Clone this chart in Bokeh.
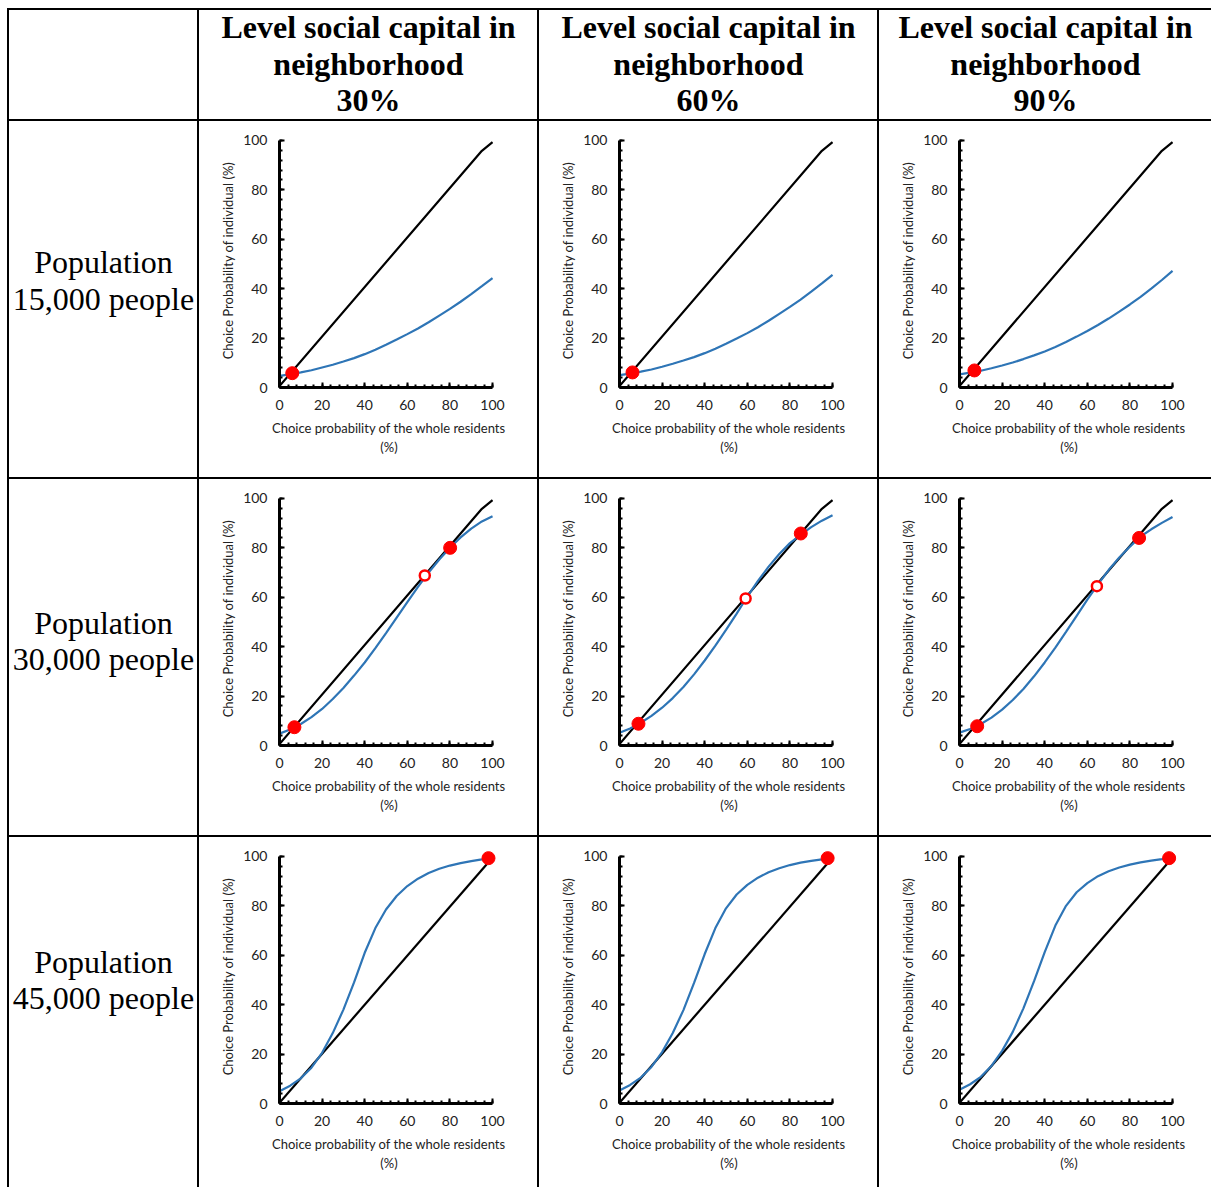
from bokeh.plotting import figure
from bokeh.models import Range1d, SingleIntervalTicker, Spacer
from bokeh.layouts import row, column
from bokeh.embed import file_html
from bokeh.resources import INLINE
from bokeh.core.properties import value

# ---------------- data ----------------
HEADER_LINES = ["Level social capital in", "neighborhood"]
SOCIAL_LEVELS = ["30%", "60%", "90%"]
ROW_WORD = "Population"
POPULATIONS = ["15,000 people", "30,000 people", "45,000 people"]
X_LABEL = "Choice probability of the whole residents\n(%)"
Y_LABEL = "Choice Probability of individual (%)"

# x positions at which the individual-probability curves were read
x_rows12 = [0, 5, 10, 15, 20, 25, 30, 35, 40, 45, 50, 55, 60, 65, 70, 75, 80, 85, 90, 95, 100]
x_row3 = [0, 5, 10, 15, 20, 25, 30, 35, 40, 45, 50, 55, 60, 65, 70, 75, 80, 85, 90, 95, 98]

# population 15,000
blue_15k_30 = [4.7, 5.3, 6.1, 7.0, 8.1, 9.2, 10.5, 11.9, 13.5, 15.3, 17.3, 19.4, 21.6, 23.9, 26.4, 29.1, 31.8, 34.7, 37.8, 41.0, 44.3]
blue_15k_60 = [5.0, 5.6, 6.4, 7.3, 8.4, 9.6, 10.9, 12.3, 13.9, 15.7, 17.7, 19.8, 22.0, 24.4, 27.0, 29.8, 32.6, 35.6, 38.8, 42.1, 45.6]
blue_15k_90 = [5.3, 6.0, 6.8, 7.8, 8.9, 10.1, 11.5, 13.0, 14.6, 16.4, 18.4, 20.6, 22.9, 25.3, 27.9, 30.7, 33.6, 36.7, 40.0, 43.5, 47.2]
# population 30,000
blue_30k_30 = [4.8, 6.5, 8.7, 11.5, 14.8, 18.8, 23.3, 28.3, 33.6, 39.4, 45.5, 51.8, 58.0, 64.2, 70.0, 75.3, 80.0, 84.2, 87.8, 90.7, 92.8]
blue_30k_60 = [5.2, 6.9, 9.2, 12.0, 15.3, 19.2, 23.7, 28.8, 34.4, 40.4, 46.8, 53.4, 60.3, 66.6, 72.4, 77.5, 81.9, 85.3, 88.4, 91.0, 93.2]
blue_30k_90 = [5.2, 6.7, 8.7, 11.3, 14.5, 18.4, 22.9, 28.0, 33.6, 39.6, 46.0, 52.5, 59.0, 65.2, 71.0, 76.1, 80.5, 84.6, 87.5, 90.1, 92.5]
# population 45,000
blue_45k_30 = [5.0, 7.2, 10.2, 14.5, 20.5, 28.5, 38.0, 49.0, 61.0, 71.0, 78.5, 84.0, 88.0, 91.0, 93.3, 95.0, 96.3, 97.3, 98.1, 98.8, 99.3]
blue_45k_60 = [5.3, 7.5, 10.5, 14.8, 20.8, 28.5, 37.8, 48.8, 60.5, 71.0, 79.0, 84.6, 88.5, 91.4, 93.6, 95.2, 96.5, 97.5, 98.2, 98.8, 99.3]
blue_45k_90 = [5.6, 7.8, 10.8, 15.2, 21.3, 29.0, 38.5, 49.5, 61.3, 72.0, 80.0, 85.5, 89.2, 92.0, 94.0, 95.5, 96.7, 97.6, 98.3, 98.9, 99.3]

# 45-degree reference line
black_x_rows12 = [0, 95, 100]
black_y_rows12 = [0.6, 95.8, 99.3]
black_x_row3 = [0, 98]
black_y_row3 = [0.3, 97.5]

# equilibrium points: stable (filled) and unstable (open)
stable_x = {(0, 0): [6.0], (0, 1): [6.1], (0, 2): [7.0],
            (1, 0): [7.0, 80.1], (1, 1): [8.9, 85.1], (1, 2): [8.3, 84.3],
            (2, 0): [98.1], (2, 1): [97.7], (2, 2): [98.4]}
stable_y = {(0, 0): [5.8], (0, 1): [6.1], (0, 2): [6.9],
            (1, 0): [7.4, 80.0], (1, 1): [8.8, 85.8], (1, 2): [7.8, 84.0],
            (2, 0): [99.3], (2, 1): [99.3], (2, 2): [99.3]}
unstable_x = {(1, 0): [68.2], (1, 1): [59.2], (1, 2): [64.5]}
unstable_y = {(1, 0): [68.8], (1, 1): [59.5], (1, 2): [64.5]}

curves = {(0, 0): blue_15k_30, (0, 1): blue_15k_60, (0, 2): blue_15k_90,
          (1, 0): blue_30k_30, (1, 1): blue_30k_60, (1, 2): blue_30k_90,
          (2, 0): blue_45k_30, (2, 1): blue_45k_60, (2, 2): blue_45k_90}

# ---------------- layout geometry ----------------
COL_W = [188, 338, 338, 332]
ROW_H = [109, 356, 356, 350]
LINE = 2
MARGIN_LEFT = 7
MARGIN_TOP = 8
TABLE_W = LINE * 4 + sum(COL_W)
FRAME_W, FRAME_H = 219, 254
FRAME_LEFT, FRAME_TOP = 80, 12

BLUE = "#2E75B6"
SERIF = "Liberation Serif"
SANS = "Lato"


def vline(h):
    return Spacer(width=LINE, height=h, styles={"background-color": "black"})


def hline(w):
    return Spacer(width=w, height=LINE, styles={"background-color": "black"})


def text_cell(w, h, centers, texts, bold, top, frame_h):
    # centers: vertical centre of each text line, in pixels from the cell top;
    # the frame spans cell pixels top .. top+frame_h (rows align their frames)
    p = figure(width=w, height=h, x_range=Range1d(0, w),
               y_range=Range1d(top + frame_h, top),
               x_axis_type=None, y_axis_type=None, output_backend="svg",
               toolbar_location=None, title=None,
               min_border_left=0, min_border_right=0,
               min_border_top=top, min_border_bottom=h - top - frame_h)
    p.grid.visible = False
    p.outline_line_color = None
    p.background_fill_color = "white"
    p.border_fill_color = "white"
    p.text(x=[w / 2] * len(texts), y=centers, text=texts,
           text_align="center", text_baseline="middle", text_font=value(SERIF),
           text_font_style="bold" if bold else "normal",
           text_font_size="32px", text_color="black")
    return p


def chart(r, c):
    w = COL_W[c + 1]
    h = ROW_H[r + 1]
    p = figure(width=w, height=h, x_range=Range1d(0, 102.8), y_range=Range1d(0, 102.8),
               output_backend="svg", toolbar_location=None, title=None,
               min_border_left=FRAME_LEFT, min_border_right=w - FRAME_LEFT - FRAME_W,
               min_border_top=FRAME_TOP, min_border_bottom=h - FRAME_TOP - FRAME_H)
    p.grid.visible = False
    p.outline_line_color = None
    p.background_fill_color = "white"
    p.border_fill_color = "white"

    for ax in (p.xaxis[0], p.yaxis[0]):
        ax.ticker = SingleIntervalTicker(interval=20, num_minor_ticks=5)
        ax.bounds = (0, 100)
        ax.axis_line_width = 3
        ax.axis_line_color = "black"
        ax.major_tick_in = 5
        ax.major_tick_out = 0
        ax.minor_tick_in = 3
        ax.minor_tick_out = 0
        ax.major_tick_line_width = 2
        ax.minor_tick_line_width = 2
        ax.major_tick_line_color = "black"
        ax.minor_tick_line_color = "black"
        ax.major_label_text_font = SANS
        ax.major_label_text_font_size = "14px"
        ax.major_label_text_color = "#222222"
        ax.axis_label_text_font = SANS
        ax.axis_label_text_font_size = "13px"
        ax.axis_label_text_font_style = "normal"
        ax.axis_label_text_color = "#222222"
    p.xaxis.axis_label = X_LABEL
    p.yaxis.axis_label = Y_LABEL
    p.xaxis.major_label_standoff = 12
    p.yaxis.major_label_standoff = 12
    p.xaxis.axis_label_standoff = 7
    p.yaxis.axis_label_standoff = 4

    if r < 2:
        bx, by, xs = black_x_rows12, black_y_rows12, x_rows12
    else:
        bx, by, xs = black_x_row3, black_y_row3, x_row3
    p.line(bx, by, line_color="black", line_width=2.2)
    p.line(xs, curves[(r, c)], line_color=BLUE, line_width=2.2)
    p.scatter(stable_x[(r, c)], stable_y[(r, c)], size=13, marker="circle",
              fill_color="#FF0000", line_color="#FF0000")
    if (r, c) in unstable_x:
        p.scatter(unstable_x[(r, c)], unstable_y[(r, c)], size=10, marker="circle",
                  fill_color="white", line_color="#FF0000", line_width=2.5)
    return p


# header row
header_cells = [Spacer(width=COL_W[0], height=ROW_H[0])]
for i, lvl in enumerate(SOCIAL_LEVELS):
    header_cells.append(text_cell(COL_W[i + 1], ROW_H[0], [16, 53, 89],
                                  HEADER_LINES + [lvl], True, 0, ROW_H[0]))

rows = []
hdr = [vline(ROW_H[0])]
for i, cell in enumerate(header_cells):
    hdr.append(cell)
    if i < 3:
        hdr.append(vline(ROW_H[0]))
rows.append(row(*hdr))

label_centers = [[140, 177], [143, 179], [124, 160]]
for r in range(3):
    h = ROW_H[r + 1]
    items = [vline(h), text_cell(COL_W[0], h, label_centers[r],
                                 [ROW_WORD, POPULATIONS[r]], False, FRAME_TOP, FRAME_H)]
    for c in range(3):
        items.append(vline(h))
        items.append(chart(r, c))
    rows.append(row(*items))

table_children = []
for rr in rows:
    table_children.append(hline(TABLE_W))
    table_children.append(rr)
table = column(*table_children)

layout = column(Spacer(width=MARGIN_LEFT + TABLE_W, height=MARGIN_TOP),
                row(Spacer(width=MARGIN_LEFT, height=10), table))

open("out.html", "w").write(file_html(layout, INLINE))
